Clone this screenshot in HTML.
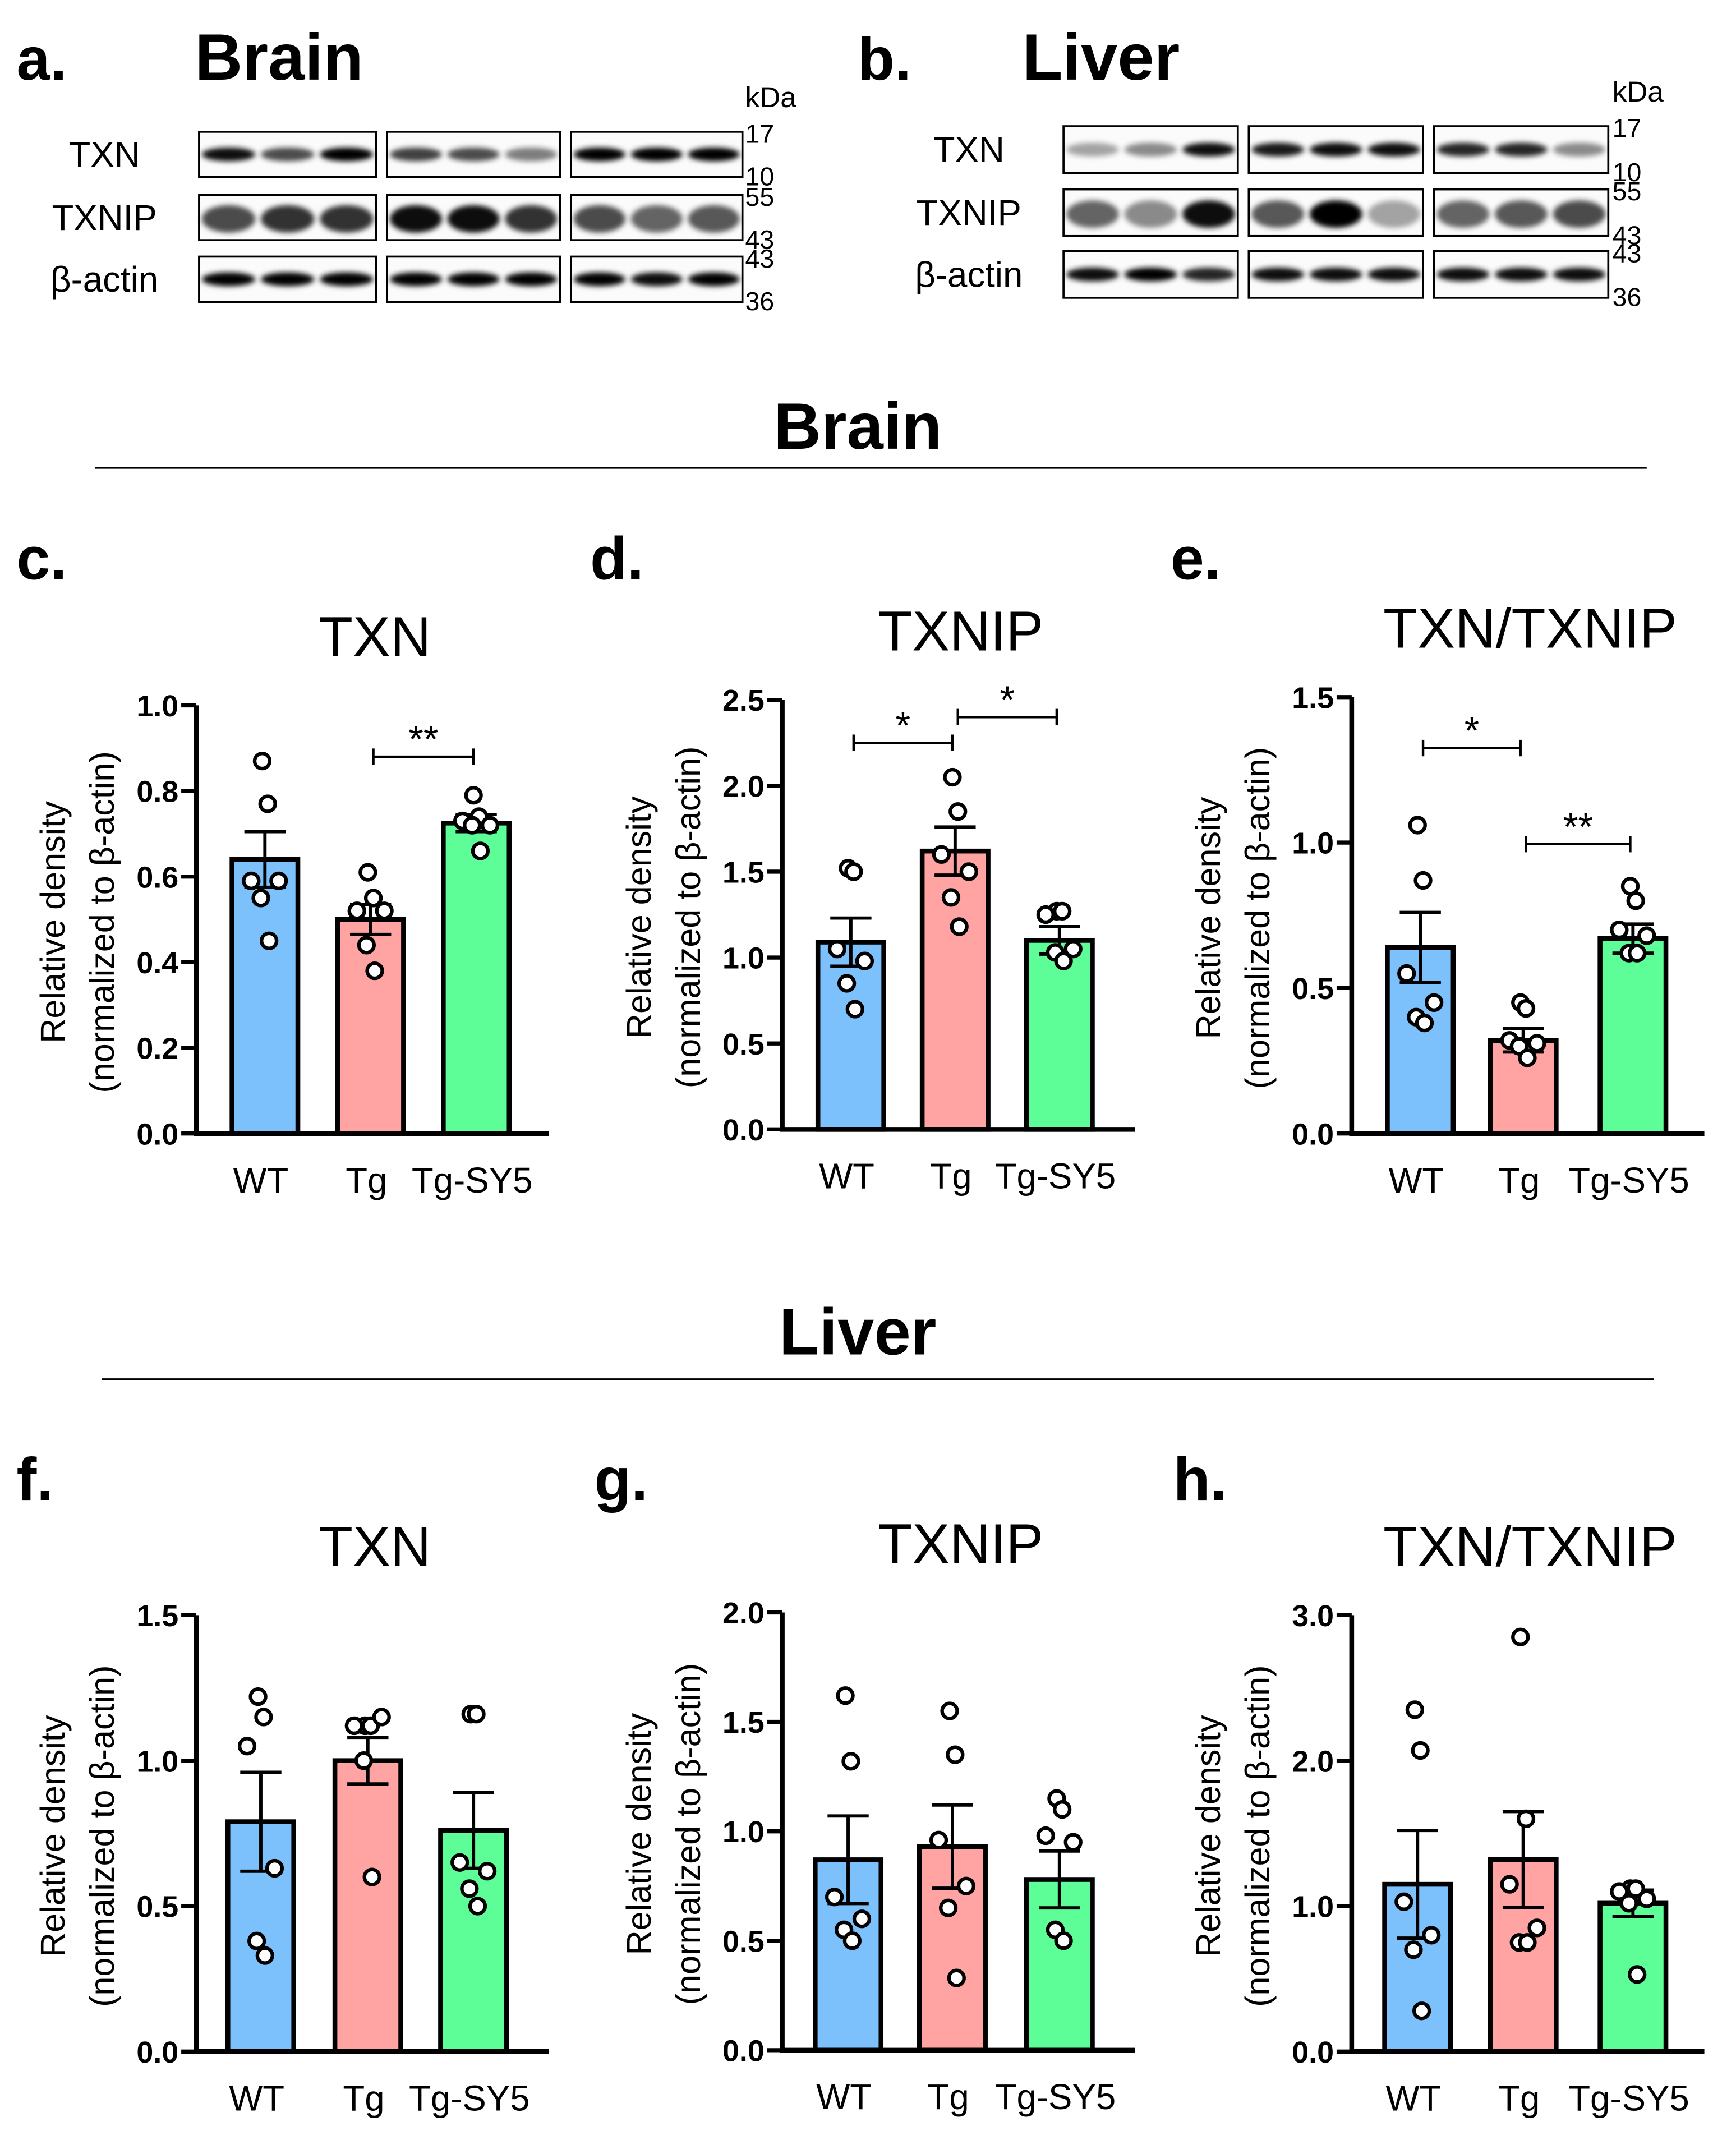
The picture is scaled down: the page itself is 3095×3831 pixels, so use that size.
<!DOCTYPE html>
<html><head><meta charset="utf-8">
<style>
html,body{margin:0;padding:0;background:#fff;}
svg{display:block;font-family:"Liberation Sans",Arial,sans-serif;}
</style></head>
<body>
<svg id="fig" xmlns="http://www.w3.org/2000/svg" width="3095" height="3831" viewBox="0 0 1265 1566">
<defs>
<filter id="blur" x="-20%" y="-100%" width="140%" height="300%"><feGaussianBlur stdDeviation="2"/></filter>
</defs>
<rect width="1265" height="1566" fill="#fff"/>
<g id="static">
<text x="12" y="58" font-size="44" font-weight="bold">a.</text>
<text x="142" y="58" font-size="48" font-weight="bold">Brain</text>
<text x="625" y="58" font-size="44" font-weight="bold">b.</text>
<text x="745" y="58" font-size="48" font-weight="bold">Liver</text>
<text x="625" y="327" font-size="48" font-weight="bold" text-anchor="middle">Brain</text>
<line x1="69" y1="341" x2="1200" y2="341" stroke="#000" stroke-width="1.2"/>
<text x="625" y="987" font-size="48" font-weight="bold" text-anchor="middle">Liver</text>
<line x1="74" y1="1005" x2="1205" y2="1005" stroke="#000" stroke-width="1.2"/>
</g>
</svg>
<script>
var NS="http://www.w3.org/2000/svg";
var svg=document.getElementById('fig');
function mk(tag,attrs,parent,txt){var e=document.createElementNS(NS,tag);for(var k in attrs)e.setAttribute(k,attrs[k]);if(txt!==undefined)e.textContent=txt;(parent||svg).appendChild(e);return e;}

// ---------- chart data ----------
var categories=["WT","Tg","Tg-SY5"];
var cMeans=[0.64,0.50,0.725], cSem=[0.065,0.035,0.02];
var cPoints=[[0.87,0.77,0.59,0.59,0.55,0.45],[0.61,0.55,0.52,0.52,0.44,0.38],[0.79,0.74,0.73,0.72,0.72,0.66]];
var cTicks=["0.0","0.2","0.4","0.6","0.8","1.0"];
var dMeans=[1.09,1.62,1.10], dSem=[0.14,0.14,0.08];
var dPoints=[[1.52,1.50,1.05,0.98,0.85,0.70],[2.05,1.85,1.60,1.50,1.35,1.18],[1.27,1.27,1.25,1.05,1.03,0.98]];
var dTicks=["0.0","0.5","1.0","1.5","2.0","2.5"];
var eMeans=[0.64,0.32,0.67], eSem=[0.12,0.04,0.05];
var ePoints=[[1.06,0.87,0.55,0.45,0.40,0.38],[0.45,0.43,0.32,0.31,0.30,0.26],[0.85,0.80,0.70,0.68,0.62,0.62]];
var eTicks=["0.0","0.5","1.0","1.5"];
var fMeans=[0.79,1.00,0.76], fSem=[0.17,0.08,0.13];
var fPoints=[[1.22,1.15,1.05,0.63,0.38,0.33],[1.12,1.12,1.12,1.15,1.00,0.60],[1.16,1.16,0.65,0.62,0.56,0.50]];
var fTicks=["0.0","0.5","1.0","1.5"];
var gMeans=[0.87,0.93,0.78], gSem=[0.20,0.19,0.13];
var gPoints=[[1.62,1.32,0.70,0.60,0.55,0.50],[1.55,1.35,0.96,0.75,0.65,0.33],[1.15,1.10,0.98,0.95,0.55,0.50]];
var gTicks=["0.0","0.5","1.0","1.5","2.0"];
var hMeans=[1.15,1.32,1.02], hSem=[0.37,0.33,0.09];
var hPoints=[[2.35,2.07,1.03,0.80,0.70,0.28],[2.85,1.60,1.15,0.85,0.75,0.75],[1.12,1.12,1.10,1.05,1.02,0.53]];
var hTicks=["0.0","1.0","2.0","3.0"];
var colors=["#7CC0FC","#FFA3A3","#5DFE98"];

var panels=[
 {id:'c',lx:12,ly:422,title:'TXN',ax:143,y0:826,yt:514,max:1.0,means:cMeans,sem:cSem,pts:cPoints,ticks:cTicks,centers:[193,270,347],sig:[[1,2,0.88,'**']]},
 {id:'d',lx:430,ly:422,title:'TXNIP',ax:570,y0:823,yt:510,max:2.5,means:dMeans,sem:dSem,pts:dPoints,ticks:dTicks,centers:[620,696,772],sig:[[0,1,2.25,'*'],[1,2,2.40,'*']]},
 {id:'e',lx:853,ly:422,title:'TXN/TXNIP',ax:985,y0:826,yt:508,max:1.5,means:eMeans,sem:eSem,pts:ePoints,ticks:eTicks,centers:[1035,1110,1190],sig:[[0,1,1.325,'*'],[1,2,0.995,'**']]},
 {id:'f',lx:12,ly:1093,title:'TXN',ax:143,y0:1495,yt:1177,max:1.5,means:fMeans,sem:fSem,pts:fPoints,ticks:fTicks,centers:[190,268,345],sig:[]},
 {id:'g',lx:433,ly:1093,title:'TXNIP',ax:570,y0:1494,yt:1175,max:2.0,means:gMeans,sem:gSem,pts:gPoints,ticks:gTicks,centers:[618,694,772],sig:[]},
 {id:'h',lx:855,ly:1093,title:'TXN/TXNIP',ax:985,y0:1495,yt:1177,max:3.0,means:hMeans,sem:hSem,pts:hPoints,ticks:hTicks,centers:[1033,1110,1190],sig:[]}
];

panels.forEach(function(p){
  var g=mk('g',{});
  
  
  var Y=function(v){return p.y0-(v/p.max)*(p.y0-p.yt);};
  var pl=mk('text',{x:p.lx,y:p.ly,'font-size':44,'font-weight':'bold'},g,p.id+'.');
  
  
  var tt=mk('text',{x:p.ax+130,y:p.yt-36,'font-size':41,'text-anchor':'middle'},g,p.title);
  
  
  var cy=(p.y0+p.yt)/2+2;
  var yl=mk('text',{x:0,y:0,'font-size':25,'text-anchor':'middle',transform:'translate('+(p.ax-96)+','+cy+') rotate(-90)'},g,'Relative density');
  
  
  var yl2=mk('text',{x:0,y:0,'font-size':25,'text-anchor':'middle',transform:'translate('+(p.ax-60)+','+cy+') rotate(-90)'},g,'(normalized to \u03b2-actin)');
  
  
  p.means.forEach(function(m,i){
    var c=p.centers[i];
    var b=mk('rect',{x:c-24,y:Y(m),width:48,height:p.y0-Y(m),fill:colors[i],stroke:'#000','stroke-width':3.5},g);
    
    
    var e=mk('path',{d:'M'+c+' '+Y(m-p.sem[i])+'V'+Y(m+p.sem[i])+'M'+(c-15)+' '+Y(m+p.sem[i])+'H'+(c+15)+'M'+(c-15)+' '+Y(m-p.sem[i])+'H'+(c+15),stroke:'#000','stroke-width':2.4,fill:'none'},g);
    
    
    var offs=[-10,10,-10,10,-3,3];
    p.pts[i].forEach(function(v,j){
      var pt=mk('circle',{cx:c+offs[j%6]*((j<2)?0.2:1),cy:Y(v),r:5.5,fill:'#fff',stroke:'#000','stroke-width':2.6},g);
      
      
    });
    var cl=mk('text',{x:c-3,y:p.y0+43,'font-size':26,'text-anchor':'middle'},g,categories[i]);
    
    
  });
  var ax=mk('path',{d:'M'+p.ax+' '+p.yt+'V'+p.y0+'H'+(p.ax+257),stroke:'#000','stroke-width':3.5,fill:'none'},g);
  
  
  p.ticks.forEach(function(t,k){
    var v=parseFloat(t);
    mk('line',{x1:p.ax-11,x2:p.ax,y1:Y(v),y2:Y(v),stroke:'#000','stroke-width':3},g);
    var tl=mk('text',{x:p.ax-13,y:Y(v)+8,'font-size':22,'font-weight':'bold','text-anchor':'end'},g,t);
    
    
  });
  p.sig.forEach(function(s){
    var x1=p.centers[s[0]]+2,x2=p.centers[s[1]]-2,y=Y(s[2]);
    var br=mk('path',{d:'M'+x1+' '+(y-6)+'V'+(y+6)+'M'+x1+' '+y+'H'+x2+'M'+x2+' '+(y-6)+'V'+(y+6),stroke:'#000','stroke-width':1.8,fill:'none'},g);
    
    
    var st=mk('text',{x:(x1+x2)/2,y:y-3,'font-size':28,'text-anchor':'middle'},g,s[3]);
    
    
  });
});

// ---------- western blots ----------
var rowLabels=["TXN","TXNIP","\u03b2-actin"];
var brainInt=[[0.95,0.7,1,0.75,0.7,0.5,1,1,1],[0.7,0.8,0.8,0.95,0.95,0.8,0.7,0.6,0.65],[1,1,1,1,1,1,1,0.95,1]];
var liverInt=[[0.35,0.45,0.95,0.9,0.95,0.95,0.85,0.85,0.45],[0.6,0.45,0.95,0.65,1,0.35,0.6,0.65,0.7],[0.95,1,0.85,0.95,0.95,0.95,0.95,0.95,0.95]];
var blots=[
 {name:'brain',bx:[145,282,416],bw:[129,126,125],rows:[96,142,187],h:33,lab:76,kx:543,ints:brainInt,kda:[['17','10'],['55','43'],['43','36']]},
 {name:'liver',bx:[775,910,1045],bw:[127,127,127],rows:[92,138,183],h:34,lab:706,kx:1175,ints:liverInt,kda:[['17','10'],['55','43'],['43','36']]}
];
blots.forEach(function(b){
  var g=mk('g',{});
  
  
  var kd=mk('text',{x:b.kx,y:b.rows[0]-18,'font-size':21},g,'kDa');
  
  
  b.rows.forEach(function(ry,r){
    var rl=mk('text',{x:b.lab,y:ry+b.h/2+9,'font-size':26,'text-anchor':'middle'},g,rowLabels[r]);
    
    
    b.bx.forEach(function(x,k){
      mk('rect',{x:x,y:ry,width:b.bw[k],height:b.h,fill:'#fbfbfb',stroke:'#000','stroke-width':1.5},g);
      for(var l=0;l<3;l++){
        var v=b.ints[r][k*3+l];
        var cx=x+b.bw[k]*(l+0.5)/3;
        var hh=r==1?10:5;
        var band=mk('ellipse',{cx:cx,cy:ry+b.h/2+(r==1?1:0),rx:b.bw[k]/6-2,ry:hh,fill:'#000','fill-opacity':v,filter:'url(#blur)'},g);
        
        
      }
    });
    mk('text',{x:b.kx,y:ry+8,'font-size':19},g,b.kda[r][0]);
    mk('text',{x:b.kx,y:ry+b.h+6,'font-size':19},g,b.kda[r][1]);
  });
});
</script>
</body></html>
